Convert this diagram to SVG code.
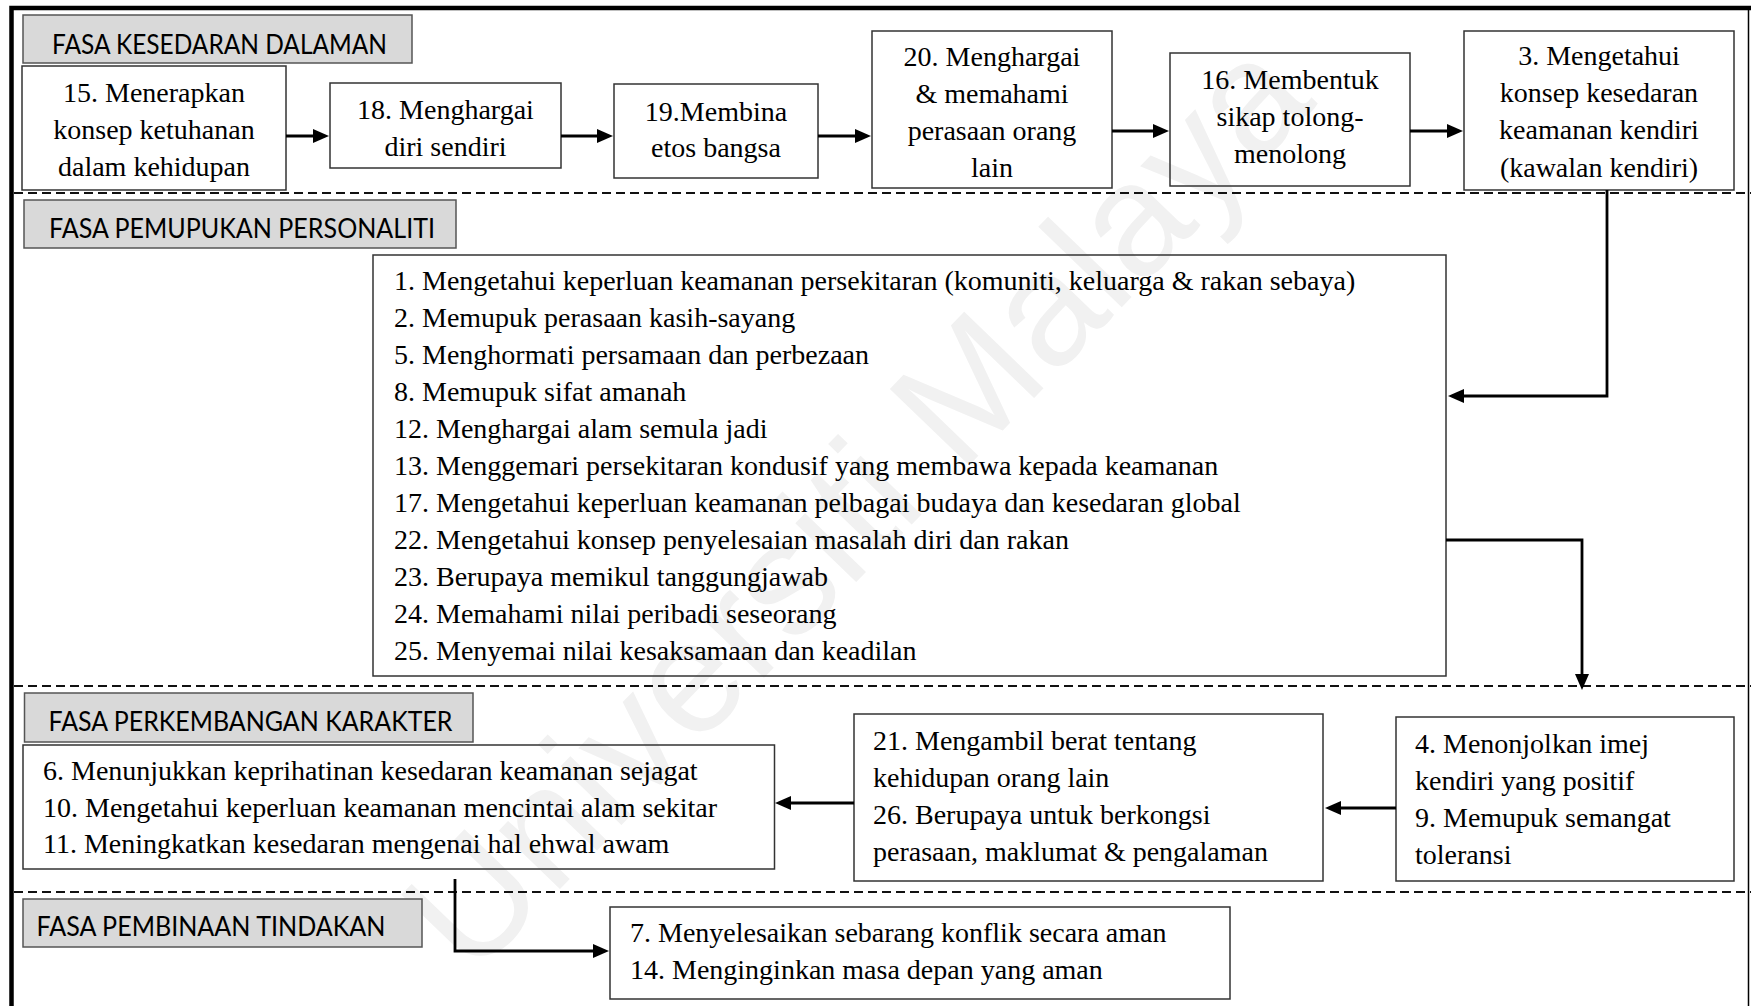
<svg xmlns="http://www.w3.org/2000/svg" width="1751" height="1006" viewBox="0 0 1751 1006">
  <defs>
    <style>
      .box{fill:none;stroke:#333;stroke-width:1.5}
      .lbl{fill:#d9d9d9;stroke:#555;stroke-width:1.5}
      .t{font-family:"Liberation Serif","Times New Roman",serif;font-size:28px;fill:#000}
      .c{text-anchor:middle}
      .lt{font-family:Lato,"Open Sans",sans-serif;font-size:26px;fill:#000;text-anchor:middle}
      .conn{fill:none;stroke:#000;stroke-width:2.8}
      .sep{fill:none;stroke:#111;stroke-width:2;stroke-dasharray:9 5}
      .wm{font-family:"Liberation Sans",Arial,sans-serif;font-size:160px;fill:#f1f1f1}
    </style>
    <marker id="arr" markerUnits="userSpaceOnUse" markerWidth="16" markerHeight="14" viewBox="0 0 16 14" refX="8" refY="7" orient="auto">
      <path d="M0,0 L16,7 L0,14 Z" fill="#000"/>
    </marker>
  </defs>

  <rect width="1751" height="1006" fill="#fff"/>

  <!-- faint diagonal watermark -->
  <text class="wm" transform="translate(472,980) rotate(-46)">Universiti Malaya</text>

  <!-- outer frame -->
  <g id="frame">
    <path d="M11.5,1006 V8 H1751" fill="none" stroke="#000" stroke-width="4.5"/>
    <path d="M1748.5,8 V1006" fill="none" stroke="#000" stroke-width="1.5"/>
  </g>

  <!-- phase separators -->
  <g id="separators">
    <path class="sep" d="M14,193 H1751"/>
    <path class="sep" d="M14,686 H1751"/>
    <path class="sep" d="M14,892 H1751"/>
  </g>

  <!-- phase labels -->
  <g id="label-kesedaran">
    <rect class="lbl" x="23" y="15" width="389" height="48"/>
    <text class="lt" x="219.5" y="54" textLength="335" lengthAdjust="spacingAndGlyphs">FASA KESEDARAN DALAMAN</text>
  </g>
  <g id="label-pemupukan">
    <rect class="lbl" x="24" y="200" width="432" height="48"/>
    <text class="lt" x="242" y="238" textLength="386" lengthAdjust="spacingAndGlyphs">FASA PEMUPUKAN PERSONALITI</text>
  </g>
  <g id="label-perkembangan">
    <rect class="lbl" x="24.5" y="693" width="448.5" height="49"/>
    <text class="lt" x="250.5" y="731" textLength="404" lengthAdjust="spacingAndGlyphs">FASA PERKEMBANGAN KARAKTER</text>
  </g>
  <g id="label-pembinaan">
    <rect class="lbl" x="23" y="899" width="399" height="48"/>
    <text class="lt" x="211" y="936" textLength="349" lengthAdjust="spacingAndGlyphs">FASA PEMBINAAN TINDAKAN</text>
  </g>

  <!-- phase 1 nodes -->
  <g id="n15">
    <rect class="box" x="22" y="66" width="264" height="124"/>
    <text class="t c" x="154" y="102">15. Menerapkan</text>
    <text class="t c" x="154" y="139">konsep ketuhanan</text>
    <text class="t c" x="154" y="176">dalam kehidupan</text>
  </g>
  <g id="n18">
    <rect class="box" x="330" y="83" width="231" height="85"/>
    <text class="t c" x="445.5" y="119">18. Menghargai</text>
    <text class="t c" x="445.5" y="156">diri sendiri</text>
  </g>
  <g id="n19">
    <rect class="box" x="614" y="84" width="204" height="94"/>
    <text class="t c" x="716" y="121">19.Membina</text>
    <text class="t c" x="716" y="157">etos bangsa</text>
  </g>
  <g id="n20">
    <rect class="box" x="872" y="31" width="240" height="157"/>
    <text class="t c" x="992" y="66">20. Menghargai</text>
    <text class="t c" x="992" y="103">&amp; memahami</text>
    <text class="t c" x="992" y="140">perasaan orang</text>
    <text class="t c" x="992" y="177">lain</text>
  </g>
  <g id="n16">
    <rect class="box" x="1170" y="53" width="240" height="133"/>
    <text class="t c" x="1290" y="89">16. Membentuk</text>
    <text class="t c" x="1290" y="126">sikap tolong-</text>
    <text class="t c" x="1290" y="163">menolong</text>
  </g>
  <g id="n3">
    <rect class="box" x="1464" y="31" width="270" height="159"/>
    <text class="t c" x="1599" y="65">3. Mengetahui</text>
    <text class="t c" x="1599" y="102">konsep kesedaran</text>
    <text class="t c" x="1599" y="139">keamanan kendiri</text>
    <text class="t c" x="1599" y="177">(kawalan kendiri)</text>
  </g>

  <!-- phase 2 node -->
  <g id="n-personaliti">
    <rect class="box" x="373" y="255" width="1073" height="421"/>
    <text class="t" x="394" y="290">1. Mengetahui keperluan keamanan persekitaran (komuniti, keluarga &amp; rakan sebaya)</text>
    <text class="t" x="394" y="327">2. Memupuk perasaan kasih-sayang</text>
    <text class="t" x="394" y="364">5. Menghormati persamaan dan perbezaan</text>
    <text class="t" x="394" y="401">8. Memupuk sifat amanah</text>
    <text class="t" x="394" y="438">12. Menghargai alam semula jadi</text>
    <text class="t" x="394" y="475">13. Menggemari persekitaran kondusif yang membawa kepada keamanan</text>
    <text class="t" x="394" y="512">17. Mengetahui keperluan keamanan pelbagai budaya dan kesedaran global</text>
    <text class="t" x="394" y="549">22. Mengetahui konsep penyelesaian masalah diri dan rakan</text>
    <text class="t" x="394" y="586">23. Berupaya memikul tanggungjawab</text>
    <text class="t" x="394" y="623">24. Memahami nilai peribadi seseorang</text>
    <text class="t" x="394" y="660">25. Menyemai nilai kesaksamaan dan keadilan</text>
  </g>

  <!-- phase 3 nodes -->
  <g id="n-karakter">
    <rect class="box" x="23" y="745" width="751.5" height="124"/>
    <text class="t" x="43" y="780">6. Menunjukkan keprihatinan kesedaran keamanan sejagat</text>
    <text class="t" x="43" y="817">10. Mengetahui keperluan keamanan mencintai alam sekitar</text>
    <text class="t" x="43" y="853">11. Meningkatkan kesedaran mengenai hal ehwal awam</text>
  </g>
  <g id="n21-26">
    <rect class="box" x="854" y="714" width="469" height="167"/>
    <text class="t" x="873" y="750">21. Mengambil berat tentang</text>
    <text class="t" x="873" y="787">kehidupan orang lain</text>
    <text class="t" x="873" y="824">26. Berupaya untuk berkongsi</text>
    <text class="t" x="873" y="861">perasaan, maklumat &amp; pengalaman</text>
  </g>
  <g id="n4-9">
    <rect class="box" x="1396" y="717" width="338" height="164"/>
    <text class="t" x="1415" y="753">4. Menonjolkan imej</text>
    <text class="t" x="1415" y="790">kendiri yang positif</text>
    <text class="t" x="1415" y="827">9. Memupuk semangat</text>
    <text class="t" x="1415" y="864">toleransi</text>
  </g>

  <!-- phase 4 node -->
  <g id="n-tindakan">
    <rect class="box" x="610" y="907" width="620" height="92"/>
    <text class="t" x="630" y="942">7. Menyelesaikan sebarang konflik secara aman</text>
    <text class="t" x="630" y="979">14. Menginginkan masa depan yang aman</text>
  </g>

  <!-- connectors -->
  <g id="connectors">
    <path class="conn" d="M286,136 H321" marker-end="url(#arr)"/>
    <path class="conn" d="M561,136 H605" marker-end="url(#arr)"/>
    <path class="conn" d="M818,136 H863" marker-end="url(#arr)"/>
    <path class="conn" d="M1112,131 H1161" marker-end="url(#arr)"/>
    <path class="conn" d="M1410,131 H1455" marker-end="url(#arr)"/>
    <path class="conn" d="M1607,190 V396 H1456" marker-end="url(#arr)"/>
    <path class="conn" d="M1446,540 H1582 V682" marker-end="url(#arr)"/>
    <path class="conn" d="M1396,808 H1333" marker-end="url(#arr)"/>
    <path class="conn" d="M854,803 H783" marker-end="url(#arr)"/>
    <path class="conn" d="M455,879 V951 H601" marker-end="url(#arr)"/>
  </g>
</svg>
